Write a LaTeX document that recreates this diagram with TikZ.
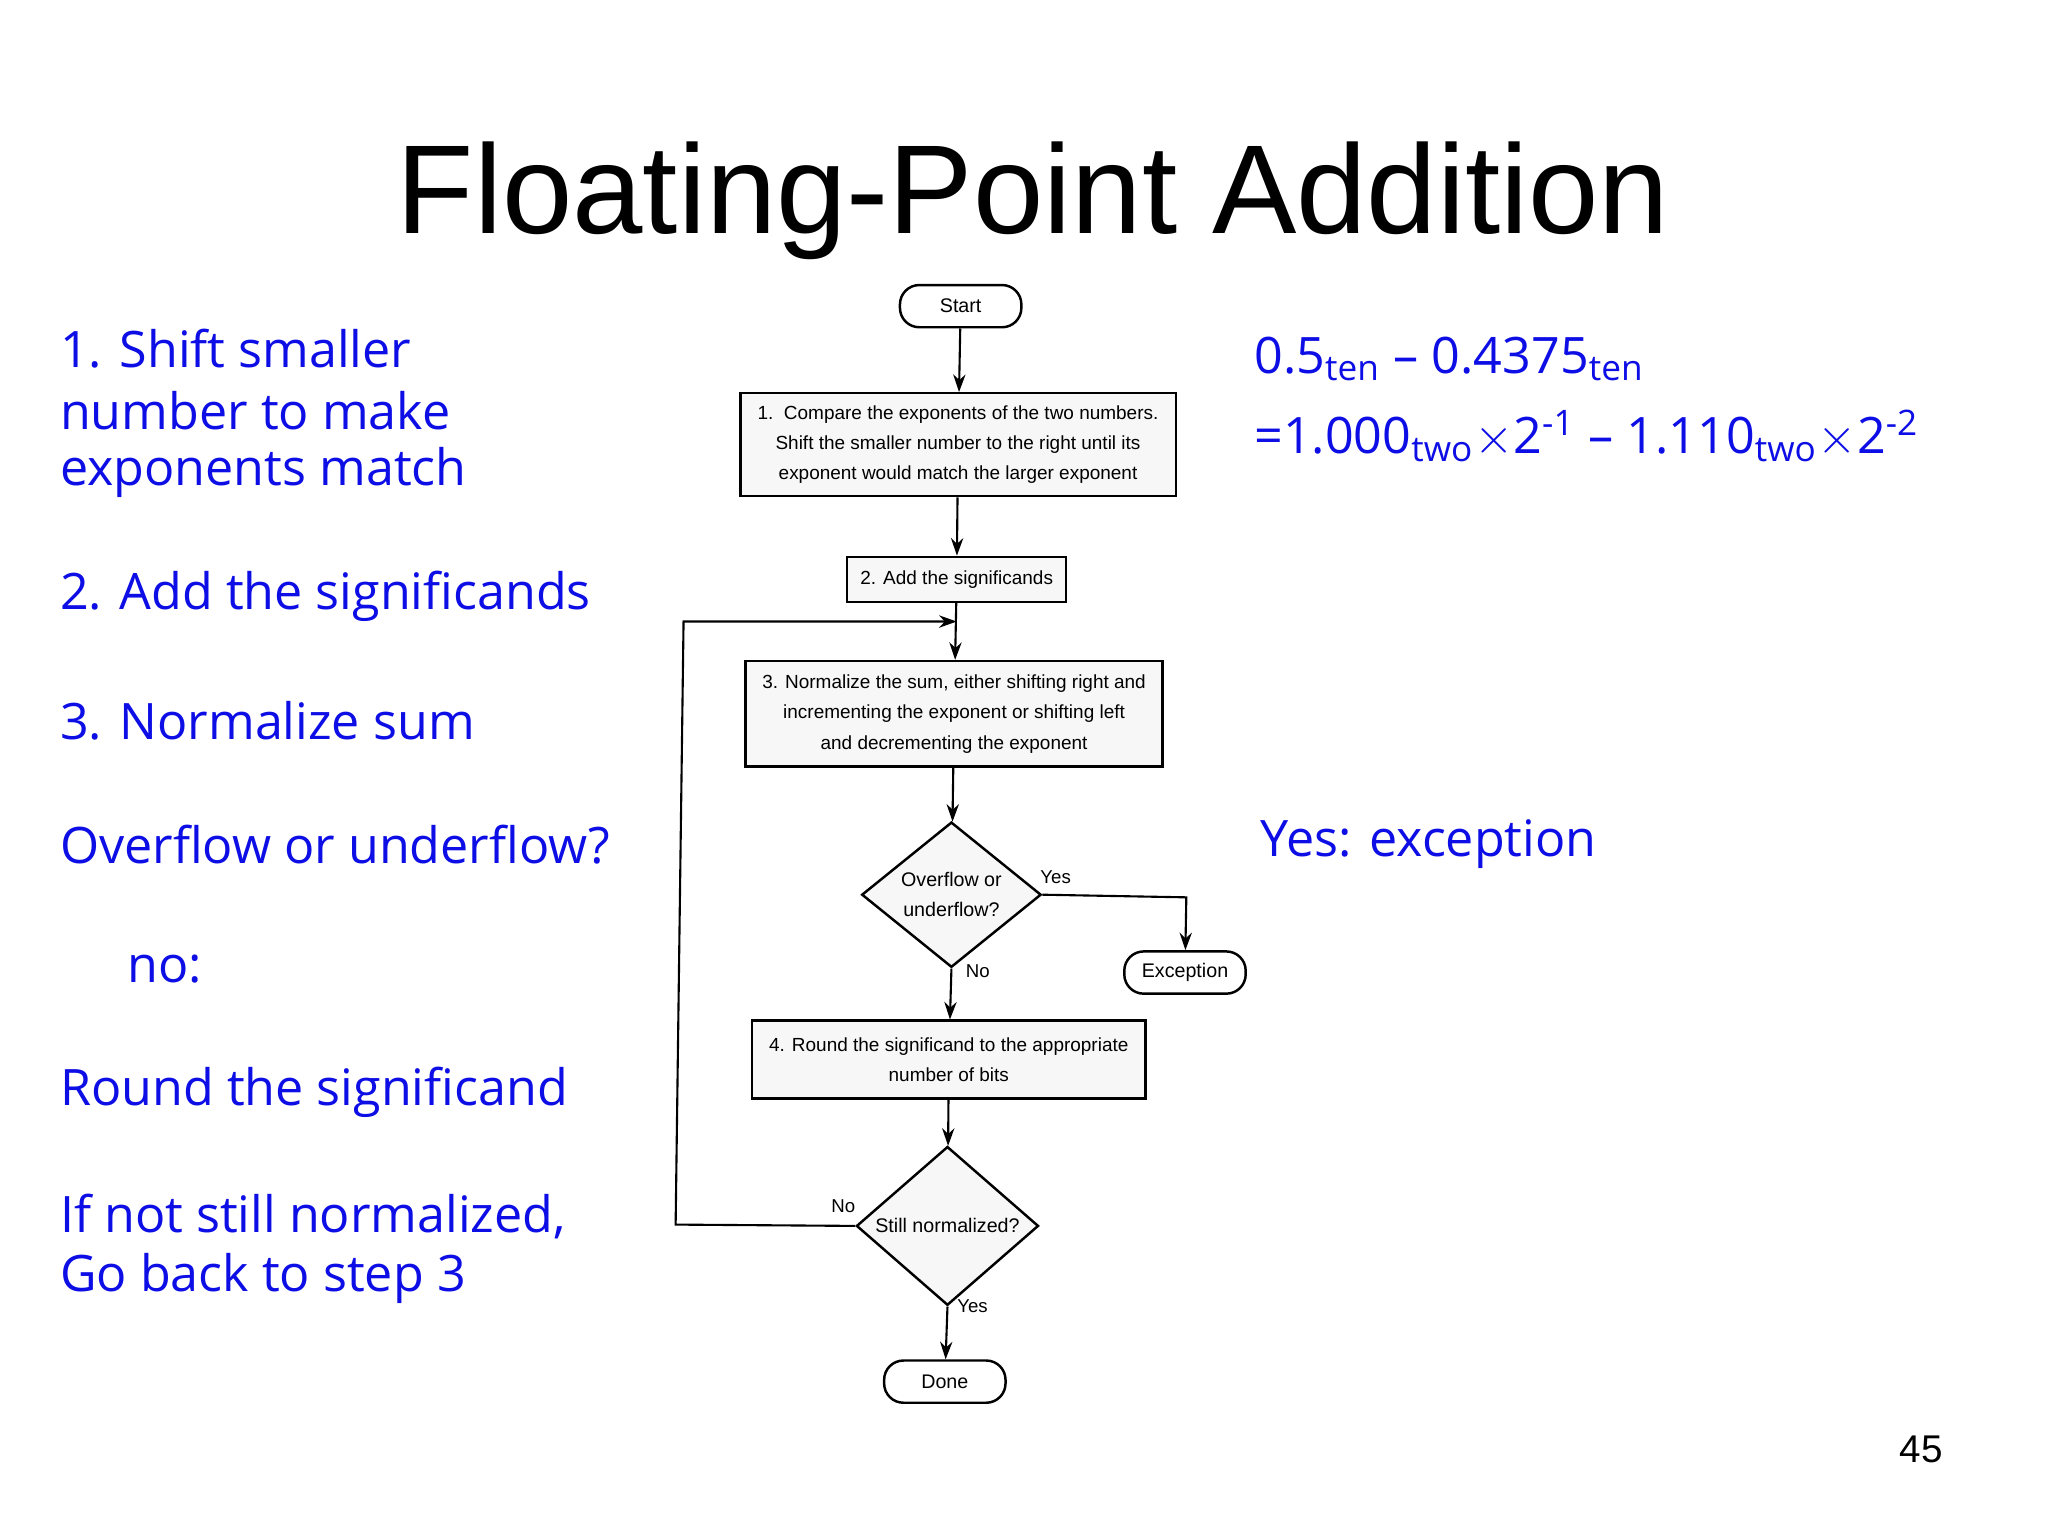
\documentclass[tikz,border=0pt]{standalone}
\usepackage{fontspec}
\setmainfont{Liberation Sans}
\newfontfamily\bluef{Open Sans}
\usetikzlibrary{shapes.geometric,arrows.meta}
\definecolor{myblue}{rgb}{0.05,0.05,0.9}
\begin{document}
\begin{tikzpicture}[x=0.013196cm,y=-0.013196cm,
 box/.style={draw,line width=0.7pt,fill=gray!6,align=center,font=\fontsize{5.4}{8.6}\selectfont,inner sep=0pt},
 term/.style={draw,line width=0.7pt,rounded corners=5.5pt,minimum width=92*0.0132cm,minimum height=32*0.0132cm,inner sep=0pt,font=\fontsize{5.6}{8}\selectfont},
 dia/.style={draw,line width=0.7pt,diamond,fill=gray!6,align=center,inner sep=0pt,font=\fontsize{5.6}{8.6}\selectfont},
 arr/.style={-{Stealth[length=5pt,width=3.5pt]},line width=0.6pt},
 lab/.style={font=\fontsize{5.3}{7}\selectfont},
 bt/.style={anchor=west,text=myblue,font=\bluef\fontsize{14.3}{17.6}\selectfont,inner sep=0pt}]
\useasboundingbox (0,0) rectangle (1552,1164);
\node[font=\fontsize{36}{40}\selectfont] (title) at (783,152) {Floating-Point Addition};

\node[term] (start) at (728,232) {Start};
\node[box,minimum width=330*0.0132cm,minimum height=78*0.0132cm] (b1) at (726,337) {1.\ \ Compare the exponents of the two numbers.\\Shift the smaller number to the right until its\\exponent would match the larger exponent};
\node[box,minimum width=166*0.0132cm,minimum height=34*0.0132cm] (b2) at (725,439) {2. Add the significands};
\node[box,minimum width=316*0.0132cm,minimum height=80*0.0132cm] (b3) at (723,541) {3. Normalize the sum, either shifting right and\\incrementing the exponent or shifting left\\and decrementing the exponent};
\node[dia,minimum width=136*0.0132cm,minimum height=98*0.0132cm] (d1) at (721,678) {Overflow or\\underflow?};
\node[term] (exc) at (898,737) {Exception};
\node[box,minimum width=298*0.0132cm,minimum height=59*0.0132cm] (b4) at (719,803) {4. Round the significand to the appropriate\\number of bits};
\node[dia,minimum width=138*0.0132cm,minimum height=96*0.0132cm] (d2) at (718,929) {Still normalized?};
\node[term] (done) at (716,1047) {Done};

\coordinate (c1) at (512,928);
\coordinate (c2) at (518,471);
\coordinate (c3) at (725,471);
\coordinate (c4) at (899,680);
\draw[arr] (start) -- (b1);
\draw[arr] (b1) -- (b2);
\draw[arr] (b2) -- (b3);
\draw[arr] (b3) -- (d1);
\draw[arr] (d1.south) -- (b4);
\draw[arr] (b4) -- (d2);
\draw[arr] (d2.south) -- (done);
\draw[arr] (d1.east) -- (c4) -- (exc);
\draw[arr] (d2.west) -- (c1) -- (c2) -- (c3);
\node[lab] (ly1) at (800,665) {Yes};
\node[lab] (ln1) at (741,736) {No};
\node[lab] (ln2) at (639,914) {No};
\node[lab] (ly2) at (737,990) {Yes};

\node[bt] (t1) at (45,264) {1. Shift smaller};
\node[bt] (t2) at (45,311) {number to make};
\node[bt] (t3) at (45,358) {exponents match};
\node[bt] (t4) at (45,452) {2. Add the significands};
\node[bt] (t5) at (45,546) {3. Normalize sum};
\node[bt] (t6) at (45,640) {Overflow or underflow?};
\node[bt] (t7) at (96,734) {no:};
\node[bt] (t8) at (45,828) {Round the significand};
\node[bt] (t9) at (45,922) {If not still normalized,};
\node[bt] (t10) at (45,969) {Go back to step 3};

\node[bt] (r1) at (950,272) {0.5\textsubscript{ten} – 0.4375\textsubscript{ten}};
\node[bt] (r2) at (950,330) {=1.000\textsubscript{two}$\times$2\textsuperscript{-1} – 1.110\textsubscript{two}$\times$2\textsuperscript{-2}};
\node[bt] (r3) at (955,640) {Yes: exception};
\node[font=\fontsize{11}{13}\selectfont] (pg) at (1456,1098) {45};
\end{tikzpicture}
\end{document}
